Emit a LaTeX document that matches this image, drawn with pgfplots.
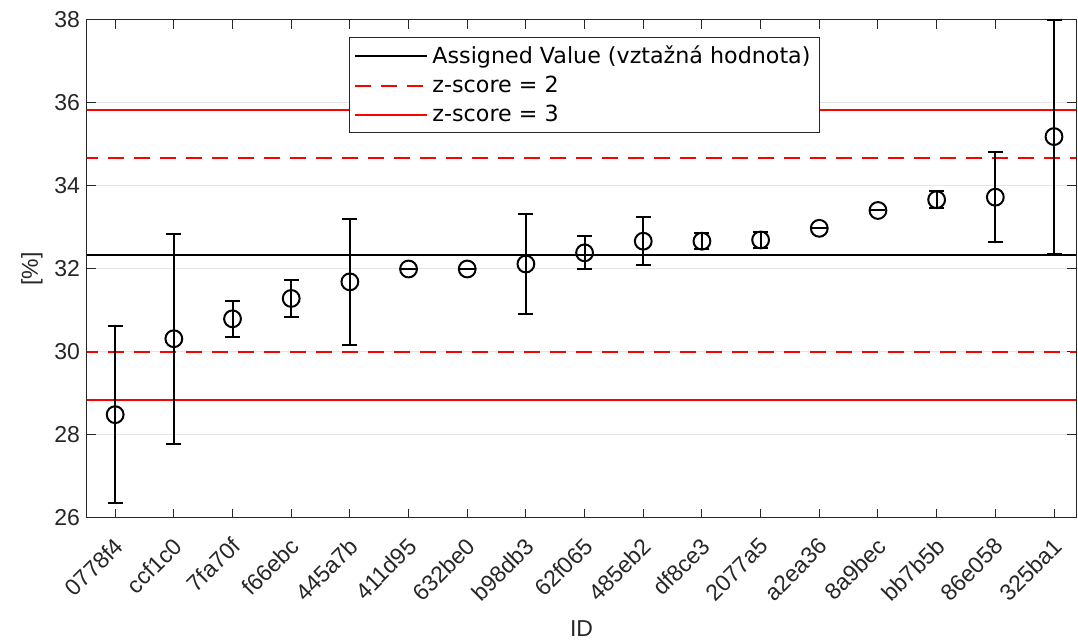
\documentclass[border=0pt]{standalone}
\usepackage{pgfplots}
\pgfplotsset{compat=1.18}
\usepackage{pgfplotstable}
\usepackage{fontspec}
\setmainfont{Liberation Sans}
\newfontfamily\legfont{DejaVu Sans}
\definecolor{axgray}{HTML}{262626}
\pgfplotstableread{
x y e
0 28.49 2.13
1 30.32 2.53
2 30.80 0.43
3 31.29 0.44
4 31.69 1.52
5 32.00 0.0
6 32.00 0.0
7 32.12 1.21
8 32.39 0.40
9 32.67 0.58
10 32.67 0.20
11 32.70 0.20
12 32.98 0.0
13 33.41 0.0
14 33.67 0.20
15 33.73 1.09
16 35.19 2.82
}\pts
\begin{document}
\begin{tikzpicture}
\path[use as bounding box] (-43.5pt,-62.5pt) rectangle (495.5pt,259pt);
\begin{axis}[
  at={(0pt,0pt)}, anchor=south west,
  scale only axis, width=494.5pt, height=249pt,
  xmin=-0.48, xmax=16.375, ymin=26, ymax=38,
  xtick={0,...,16},
  xticklabels={0778f4,ccf1c0,7fa70f,f66ebc,445a7b,411d95,632be0,b98db3,62f065,485eb2,df8ce3,2077a5,a2ea36,8a9bec,bb7b5b,86e058,325ba1},
  ytick={26,28,...,38},
  x tick label style={yshift=-12pt, xshift=2pt, rotate=45, anchor=east, inner sep=0pt},
  ticklabel style={font=\fontsize{11.5}{13}\selectfont, text=axgray},
  /pgf/number format/assume math mode=true,
  tick align=inside, major tick length=4.5pt,
  tick style={axgray, line width=0.5pt},
  axis line style={axgray, line width=0.5pt},
  ymajorgrids, grid style={gray!20, line width=0.5pt},
  xlabel={ID}, ylabel={[\%]},
  label style={font=\fontsize{11.5}{13}\selectfont, text=axgray},
  xlabel style={yshift=-5.5pt},
  ylabel style={yshift=-1pt},
  legend style={at={(0.503,0.966)}, anchor=north, draw=axgray, line width=0.5pt,
    font=\legfont\fontsize{11.1}{12.5}\selectfont, inner xsep=2.5pt, inner ysep=2pt,
    row sep=0.8pt, legend cell align=left},
  legend image code/.code={\draw[#1] (0pt,0pt) -- (36pt,0pt);},
]
\addplot[black, line width=1pt] coordinates {(-1,32.34) (17,32.34)};
\addlegendentry{Assigned Value (vztažná hodnota)}
\addplot[red, line width=1pt, dash pattern=on 8pt off 5pt] coordinates {(-1,30.01) (17,30.01)};
\addlegendentry{z-score = 2}
\addplot[red, line width=1pt] coordinates {(-1,28.845) (17,28.845)};
\addlegendentry{z-score = 3}
\addplot[red, line width=1pt, dash pattern=on 8pt off 5pt, forget plot] coordinates {(-1,34.67) (17,34.67)};
\addplot[red, line width=1pt, forget plot] coordinates {(-1,35.835) (17,35.835)};
\addplot[only marks, mark=o, mark size=4.2pt, black, line width=1pt, forget plot,
  error bars/.cd, y dir=both, y explicit,
  error mark options={black, line width=1pt, mark size=3.75pt, rotate=90},
  error bar style={black, line width=1pt}]
  table[x=x, y=y, y error=e] {\pts};
\end{axis}
\end{tikzpicture}
\end{document}
